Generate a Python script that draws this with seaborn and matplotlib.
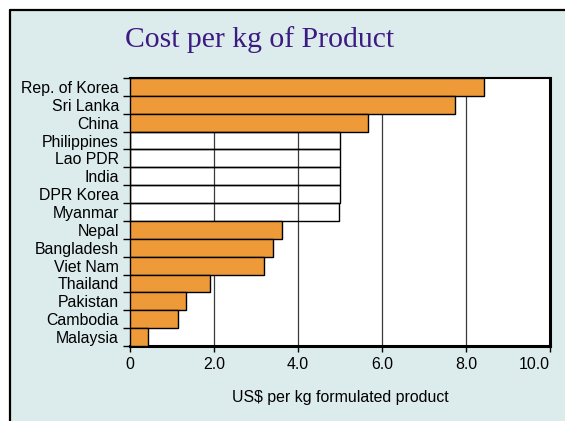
import matplotlib
matplotlib.use("Agg")
import matplotlib.pyplot as plt
from matplotlib.patches import Rectangle
import numpy as np
import pandas as pd
import seaborn as sns

# Cost per kg of formulated product, by country (US$)
countries = ["Rep. of Korea", "Sri Lanka", "China", "Philippines", "Lao PDR",
             "India", "DPR Korea", "Myanmar", "Nepal", "Bangladesh",
             "Viet Nam", "Thailand", "Pakistan", "Cambodia", "Malaysia"]
cost = [8.43, 7.74, 5.67, 5.0, 5.0, 5.0, 5.0, 4.97, 3.61, 3.40,
        3.18, 1.91, 1.33, 1.15, 0.42]
# countries whose figure is an estimate are drawn as open outlines
estimated = ["Philippines", "Lao PDR", "India", "DPR Korea", "Myanmar"]

xticks = [0, 2, 4, 6, 8, 10]
xtick_labels = ["0", "2.0", "4.0", "6.0", "8.0", "10.0"]

ORANGE = "#EE9A38"
BG = "#DCEBEB"
TITLE_COLOR = "#3B1A82"

df = pd.DataFrame({"country": countries, "cost": cost})
palette = {c: ("white" if c in estimated else ORANGE) for c in countries}

sns.set_theme(style="white")
plt.rcParams["font.family"] = ["Liberation Sans", "DejaVu Sans"]
plt.rcParams["text.color"] = "black"
plt.rcParams["axes.labelcolor"] = "black"
plt.rcParams["xtick.color"] = "black"
plt.rcParams["ytick.color"] = "black"

fig = plt.figure(figsize=(5.65, 4.21), dpi=100)
fig.patch.set_facecolor("white")
# slide panel with a dark frame on the top and left
fig.patches.append(Rectangle((10 / 565, 0), 1, 1 - 10 / 421,
                             transform=fig.transFigure, facecolor=BG,
                             edgecolor="none", zorder=-10))
fig.add_artist(plt.Line2D([10 / 565, 10 / 565], [0, 1 - 10 / 421],
                          transform=fig.transFigure, color="black", lw=1.6,
                          zorder=-5))
fig.add_artist(plt.Line2D([10 / 565, 1], [1 - 10 / 421, 1 - 10 / 421],
                          transform=fig.transFigure, color="black", lw=1.6,
                          zorder=-5))

ax = fig.add_axes([130 / 565, 1 - 346 / 421, 420 / 565, 268 / 421])
ax.set_facecolor("white")

sns.barplot(data=df, x="cost", y="country", hue="country", palette=palette,
            order=countries, hue_order=countries, legend=False, width=1.0,
            edgecolor="black", linewidth=1.0, saturation=1.0, ax=ax, zorder=3)

# open bars let the grid show through
for bar in ax.patches:
    fc = bar.get_facecolor()
    if fc[0] > 0.99 and fc[1] > 0.99 and fc[2] > 0.99:
        bar.set_facecolor("none")

ax.set_xlim(0, 10)
ax.set_ylim(len(countries) - 0.5, -0.5)

# vertical grid lines behind the filled bars
for gx in xticks[1:-1]:
    ax.axvline(gx, color="#3a3a3a", lw=0.9, zorder=1)

ax.set_xticks(xticks)
ax.set_xticklabels(xtick_labels, fontsize=11.4)
ax.tick_params(axis="x", direction="out", length=4, width=1, color="black",
               bottom=True, pad=4)
# keep the last value label inside the panel
ax.get_xticklabels()[-1].set_horizontalalignment("right")

# category labels centred on bars, tick marks on the boundaries
ax.set_yticks(np.arange(len(countries) + 1) - 0.5)
ax.set_yticklabels([])
ax.tick_params(axis="y", which="major", direction="out", length=5, width=1,
               color="black", left=True)
ax.set_yticks(np.arange(len(countries)), minor=True)
ax.set_yticklabels(countries, minor=True, fontsize=11.4)
ax.tick_params(axis="y", which="minor", length=0, pad=8)

ax.set_xlabel("US$ per kg formulated product", fontsize=11.4, labelpad=13)
ax.set_ylabel("")

for side, lw in [("top", 1.5), ("right", 2.2), ("bottom", 2.2), ("left", 1.0)]:
    ax.spines[side].set_visible(True)
    ax.spines[side].set_color("black")
    ax.spines[side].set_linewidth(lw)

fig.text(260 / 565, 1 - 40 / 421, "Cost per kg of Product", ha="center",
         va="center", fontsize=21.3, color=TITLE_COLOR,
         family=["Liberation Serif", "DejaVu Serif"])

fig.savefig("out.png", dpi=100, facecolor=fig.get_facecolor())
